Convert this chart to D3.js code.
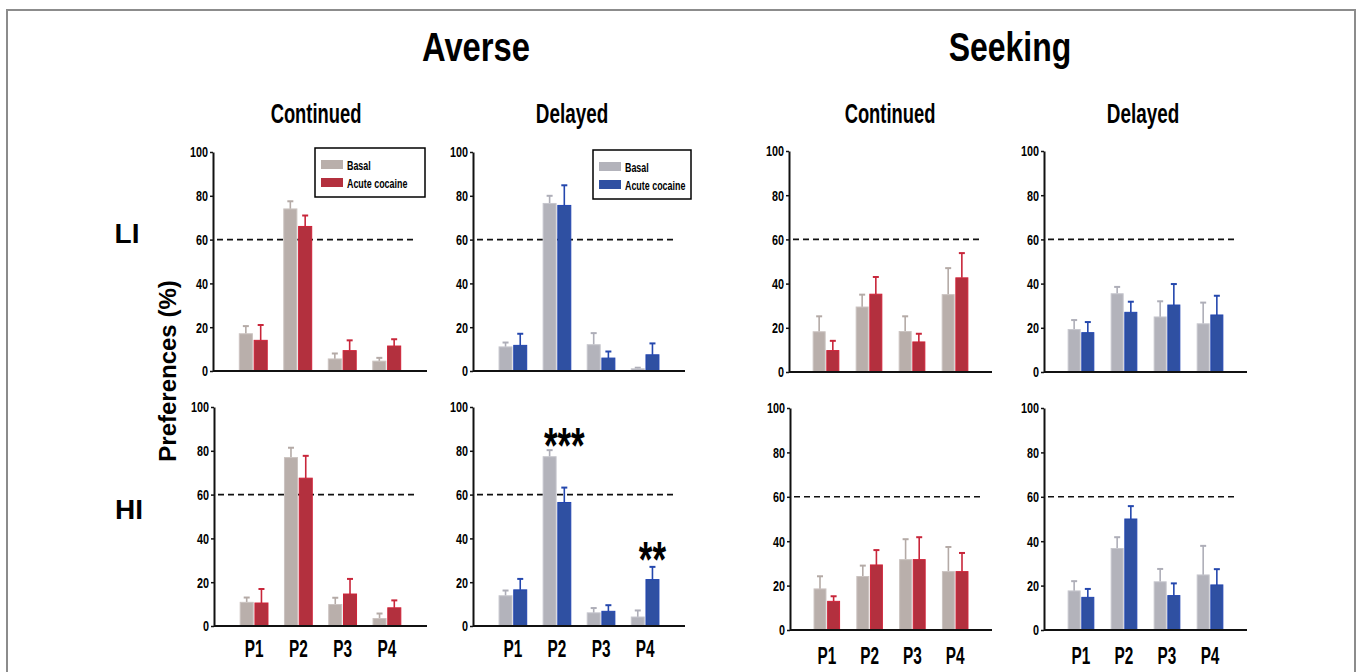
<!DOCTYPE html>
<html>
<head>
<meta charset="utf-8">
<script src="https://cdn.jsdelivr.net/npm/d3@7"></script>
<style>
  html, body { margin: 0; padding: 0; background: #fff; }
  svg { display: block; }
  text { font-family: "Liberation Sans", Arial, sans-serif; font-weight: bold; fill: #000; }
</style>
</head>
<body>
<script>
// ---- data -------------------------------------------------------------
const periods = ["P1", "P2", "P3", "P4"];
const conditions = ["Basal", "Acute cocaine"];
const yTicks = [0, 20, 40, 60, 80, 100];
const chanceLevel = 60;

// Averse / Continued
const averseContLI_basal   = [17, 74, 5.5, 4.5];
const averseContLI_basalSem = [3.5, 3.5, 2.5, 1.5];
const averseContLI_coc     = [14, 66, 9.3, 11.4];
const averseContLI_cocSem  = [7, 5, 4.7, 3.1];
const averseContHI_basal   = [10.8, 76.9, 9.8, 3.4];
const averseContHI_basalSem = [2.2, 4.5, 3.1, 2.3];
const averseContHI_coc     = [10.5, 67.5, 14.6, 8.3];
const averseContHI_cocSem  = [6.4, 10.2, 6.9, 3.4];

// Averse / Delayed
const averseDelLI_basal    = [11, 76.5, 12, 1];
const averseDelLI_basalSem = [2, 3.5, 5.3, 0.5];
const averseDelLI_coc      = [11.7, 75.6, 5.9, 7.4];
const averseDelLI_cocSem   = [5.3, 9.2, 3, 5.2];
const averseDelHI_basal    = [13.8, 77.3, 6, 4.1];
const averseDelHI_basalSem = [2.4, 3, 2.2, 3];
const averseDelHI_coc      = [16.5, 56.4, 6.7, 21.2];
const averseDelHI_cocSem   = [5, 6.8, 2.8, 5.8];

// Seeking / Continued
const seekContLI_basal     = [18.2, 29.4, 18.3, 35];
const seekContLI_basalSem  = [7, 5.6, 6.9, 12];
const seekContLI_coc       = [9.7, 35.2, 13.6, 42.6];
const seekContLI_cocSem    = [4.4, 7.8, 3.7, 11.2];
const seekContHI_basal     = [18.5, 24.1, 31.7, 26.3];
const seekContHI_basalSem  = [5.7, 4.9, 9.2, 11.1];
const seekContHI_coc       = [12.9, 29.3, 31.7, 26.3];
const seekContHI_cocSem    = [2.3, 6.7, 10.1, 8.4];

// Seeking / Delayed
const seekDelLI_basal      = [19.2, 35.4, 24.9, 21.8];
const seekDelLI_basalSem   = [4.3, 3.1, 7.1, 9.6];
const seekDelLI_coc        = [17.8, 27, 30.3, 25.8];
const seekDelLI_cocSem     = [4.8, 4.8, 9.5, 8.7];
const seekDelHI_basal      = [17.6, 36.7, 21.7, 24.8];
const seekDelHI_basalSem   = [4.4, 5.1, 5.8, 13.1];
const seekDelHI_coc        = [14.7, 50, 15.5, 20.3];
const seekDelHI_cocSem     = [3.8, 5.8, 5.5, 7.1];

// significance marks (Averse / Delayed / HI), placed over the cocaine bar
const sigMarks = [
  { period: "P2", label: "***", value: 87 },
  { period: "P4", label: "**",  value: 35 }
];

// ---- styles ----------------------------------------------------------
const palettes = {
  red:  { basal: "#b9afab", basalStroke: "#cbc3c0", basalErr: "#b4aaa6",
          coc: "#b3303e", cocStroke: "#cf2238", cocErr: "#c8263a" },
  blue: { basal: "#b3b3bb", basalStroke: "#c6c6cd", basalErr: "#aeaeb8",
          coc: "#2f50a2", cocStroke: "#2245b0", cocErr: "#2447ad" }
};

// panel geometry
const rowY = {
  averse:  { LI: [371, 152], HI: [626, 407] },
  seeking: { LI: [372, 151], HI: [630, 408] }
};
const panels = [
  { side: "averse", row: "LI", ax: 213, axEnd: 427, pal: "red",
    basal: averseContLI_basal, basalSem: averseContLI_basalSem, coc: averseContLI_coc, cocSem: averseContLI_cocSem,
    legend: { x: 315, y: 148, w: 110, h: 49 } },
  { side: "averse", row: "LI", ax: 473, axEnd: 685, pal: "blue",
    basal: averseDelLI_basal, basalSem: averseDelLI_basalSem, coc: averseDelLI_coc, cocSem: averseDelLI_cocSem,
    legend: { x: 593, y: 150, w: 98, h: 49 } },
  { side: "seeking", row: "LI", ax: 789, axEnd: 992, pal: "red",
    basal: seekContLI_basal, basalSem: seekContLI_basalSem, coc: seekContLI_coc, cocSem: seekContLI_cocSem },
  { side: "seeking", row: "LI", ax: 1044, axEnd: 1247, pal: "blue",
    basal: seekDelLI_basal, basalSem: seekDelLI_basalSem, coc: seekDelLI_coc, cocSem: seekDelLI_cocSem },
  { side: "averse", row: "HI", ax: 214, axEnd: 427, pal: "red",
    basal: averseContHI_basal, basalSem: averseContHI_basalSem, coc: averseContHI_coc, cocSem: averseContHI_cocSem },
  { side: "averse", row: "HI", ax: 473, axEnd: 685, pal: "blue",
    basal: averseDelHI_basal, basalSem: averseDelHI_basalSem, coc: averseDelHI_coc, cocSem: averseDelHI_cocSem,
    marks: sigMarks },
  { side: "seeking", row: "HI", ax: 790, axEnd: 992, pal: "red",
    basal: seekContHI_basal, basalSem: seekContHI_basalSem, coc: seekContHI_coc, cocSem: seekContHI_cocSem },
  { side: "seeking", row: "HI", ax: 1044, axEnd: 1247, pal: "blue",
    basal: seekDelHI_basal, basalSem: seekDelHI_basalSem, coc: seekDelHI_coc, cocSem: seekDelHI_cocSem }
];
const bandPadding = {
  averse:  { inner: 0.35, outer: 0.58 },
  seeking: { inner: 0.38, outer: 0.55 }
};

// ---- drawing ---------------------------------------------------------
const W = 1357, H = 672;
const svg = d3.select("body").append("svg").attr("width", W).attr("height", H);

// outer frame
svg.append("rect")
  .attr("x", 7).attr("y", 10).attr("width", 1348).attr("height", 720)
  .attr("fill", "none").attr("stroke", "#8c8c8c").attr("stroke-width", 2);

// narrow bold lettering: horizontally squeezed text anchored at (x, y)
function narrowText(parent, str, x, y, size, sx, anchor) {
  return parent.append("text")
    .attr("transform", `translate(${x},${y}) scale(${sx},1)`)
    .attr("text-anchor", anchor || "middle")
    .style("font-size", size + "px")
    .text(str);
}

// headings
narrowText(svg, "Averse", 476, 61, 41, 0.8);
narrowText(svg, "Seeking", 1010, 61, 41, 0.78);
narrowText(svg, "Continued", 316, 123, 27, 0.68);
narrowText(svg, "Delayed", 572, 123, 27, 0.7);
narrowText(svg, "Continued", 890, 123, 27, 0.68);
narrowText(svg, "Delayed", 1143, 123, 27, 0.7);

// row labels and shared y title
svg.append("text").attr("x", 127).attr("y", 243).attr("text-anchor", "middle")
  .style("font-size", "28px").text("LI");
svg.append("text").attr("x", 129).attr("y", 519).attr("text-anchor", "middle")
  .style("font-size", "28px").text("HI");
svg.append("text")
  .attr("transform", "translate(176,371) rotate(-90)")
  .attr("text-anchor", "middle")
  .style("font-size", "24px")
  .text("Preferences (%)");

panels.forEach(p => {
  const [y0, y100] = rowY[p.side][p.row];
  const pal = palettes[p.pal];
  const pad = bandPadding[p.side];
  const g = svg.append("g");

  const x = d3.scaleBand().domain(periods).range([p.ax, p.axEnd])
    .paddingInner(pad.inner).paddingOuter(pad.outer);
  const xs = d3.scaleBand().domain(conditions).range([0, x.bandwidth()]).paddingInner(0.05);
  const y = d3.scaleLinear().domain([0, 100]).range([y0, y100]);

  // chance-level reference
  g.append("line")
    .attr("x1", p.ax + 4).attr("x2", p.axEnd - 10)
    .attr("y1", y(chanceLevel)).attr("y2", y(chanceLevel))
    .attr("stroke", "#111").attr("stroke-width", 1.6).attr("stroke-dasharray", "6,4");

  const rows = periods.map((per, i) => ({
    period: per,
    bars: [
      { cond: conditions[0], v: p.basal[i], sem: p.basalSem[i], fill: pal.basal, stroke: pal.basalStroke, err: pal.basalErr },
      { cond: conditions[1], v: p.coc[i], sem: p.cocSem[i], fill: pal.coc, stroke: pal.cocStroke, err: pal.cocErr }
    ]
  }));

  const grp = g.selectAll(".grp").data(rows).join("g")
    .attr("transform", d => `translate(${x(d.period)},0)`);

  // error bars (upper half only)
  const eb = grp.selectAll(".eb").data(d => d.bars).join("g");
  eb.append("line")
    .attr("x1", d => xs(d.cond) + xs.bandwidth() / 2)
    .attr("x2", d => xs(d.cond) + xs.bandwidth() / 2)
    .attr("y1", d => y(d.v)).attr("y2", d => y(d.v + d.sem))
    .attr("stroke", d => d.err).attr("stroke-width", 1.6);
  eb.append("line")
    .attr("x1", d => xs(d.cond) + xs.bandwidth() / 2 - 3)
    .attr("x2", d => xs(d.cond) + xs.bandwidth() / 2 + 3)
    .attr("y1", d => y(d.v + d.sem)).attr("y2", d => y(d.v + d.sem))
    .attr("stroke", d => d.err).attr("stroke-width", 2);

  grp.selectAll(".bar").data(d => d.bars).join("rect")
    .attr("x", d => xs(d.cond) + 0.5)
    .attr("width", xs.bandwidth() - 1)
    .attr("y", d => y(d.v))
    .attr("height", d => y0 - y(d.v))
    .attr("fill", d => d.fill)
    .attr("stroke", d => d.stroke).attr("stroke-width", 1);

  // y axis
  const yAxis = g.append("g").attr("transform", `translate(${p.ax},0)`)
    .call(d3.axisLeft(y).tickValues(yTicks).tickSize(3).tickSizeOuter(0).tickPadding(2));
  yAxis.select(".domain").attr("stroke", "#111").attr("stroke-width", 2);
  yAxis.selectAll(".tick line").attr("stroke", "#111").attr("stroke-width", 1.5);
  const sy = 0.72;
  yAxis.selectAll(".tick text")
    .style("font-size", "15px").attr("font-family", null)
    .each(function () {
      const t = d3.select(this);
      t.attr("x", +t.attr("x") / sy).attr("transform", `scale(${sy},1)`);
    });

  // x axis
  const xAxis = g.append("g").attr("transform", `translate(0,${y0})`)
    .call(d3.axisBottom(x).tickSize(0).tickSizeOuter(0).tickPadding(p.side === "averse" ? 14 : 17)
      .tickFormat(d => p.row === "HI" ? d : ""));
  xAxis.select(".domain").attr("stroke", "#111").attr("stroke-width", 2)
    .attr("d", `M${p.ax},0H${p.axEnd}`);
  xAxis.selectAll(".tick text")
    .style("font-size", "24px").attr("font-family", null)
    .attr("transform", "scale(0.64,1)");

  // legend
  if (p.legend) {
    const L = p.legend;
    const lg = g.append("g").attr("transform", `translate(${L.x},${L.y})`);
    lg.append("rect").attr("width", L.w).attr("height", L.h)
      .attr("fill", "#fff").attr("stroke", "#000").attr("stroke-width", 1.5);
    const items = [
      { label: conditions[0], fill: pal.basal },
      { label: conditions[1], fill: pal.coc }
    ];
    items.forEach((it, i) => {
      lg.append("rect").attr("x", 6).attr("y", 12 + i * 18).attr("width", 22).attr("height", 9)
        .attr("fill", it.fill);
      narrowText(lg, it.label, 32, 21.5 + i * 18, 13.5, 0.66, "start");
    });
  }

  // significance asterisks
  if (p.marks) {
    p.marks.forEach(m => {
      const cx = x(m.period) + xs(conditions[1]) + xs.bandwidth() / 2;
      narrowText(g, m.label, cx, y(m.value) + 0.56 * 50, 50, 0.7);
    });
  }
});
</script>
</body>
</html>
